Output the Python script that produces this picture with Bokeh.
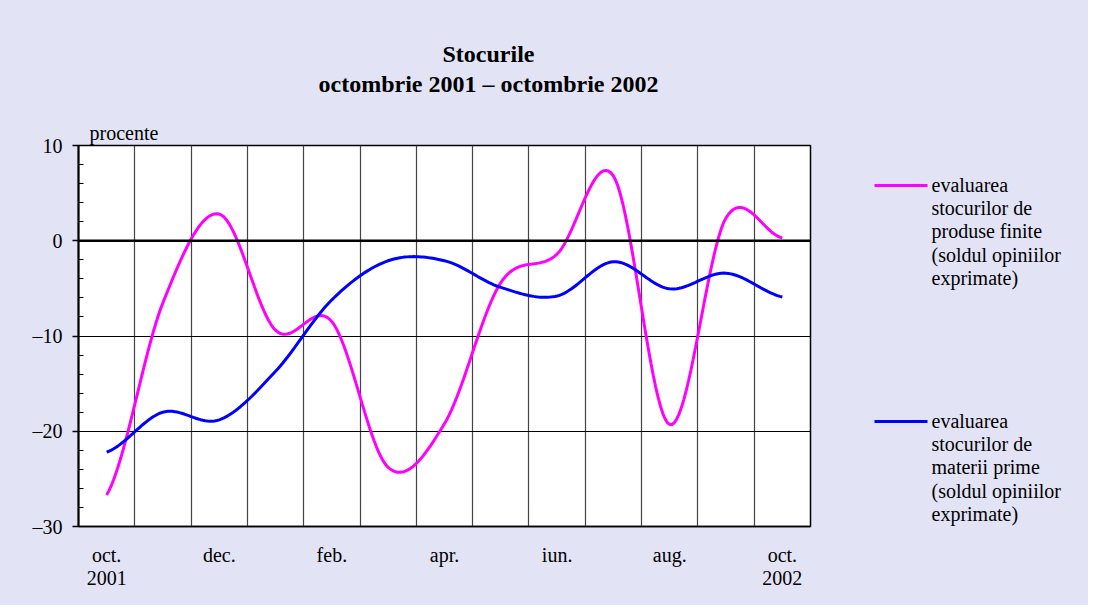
import numpy as np
from bokeh.plotting import figure
from bokeh.layouts import row, column
from bokeh.models import FixedTicker, Span, Range1d, Title
from bokeh.core.properties import value
from bokeh.embed import file_html
from bokeh.resources import INLINE

# ---------------- data ----------------
months = ["oct.", "nov.", "dec.", "ian.", "feb.", "mar.", "apr.", "mai", "iun.", "iul.", "aug.", "sep.", "oct."]
tick_labels = {0: "oct.\n2001", 2: "dec.", 4: "feb.", 6: "apr.", 8: "iun.", 10: "aug.", 12: "oct.\n2002"}
produse_finite = [-26.7, -6.5, 2.8, -9.4, -8.5, -23.8, -19.2, -4.4, -1.4, 6.8, -19.3, 2.4, 0.3]
materii_prime = [-22.2, -18.0, -18.8, -13.7, -6.2, -2.1, -2.1, -4.9, -5.8, -2.2, -5.05, -3.4, -5.9]
y_ticks = [10, 0, -10, -20, -30]
title_lines = ["Stocurile", "octombrie 2001 \u2013 octombrie 2002"]
unit_label = "procente"
legend_texts = ["evaluarea\nstocurilor de\nproduse finite\n(soldul opiniilor\nexprimate)",
                "evaluarea\nstocurilor de\nmaterii prime\n(soldul opiniilor\nexprimate)"]
legend_colors = ["#FF00FF", "#0000FF"]

FONT = "Liberation Serif"
BG = "#E3E3F6"
TOTAL_W = 1088
TOP_H = 100
MAIN_H = 505
MAIN_W = 830
LEG_W = TOTAL_W - MAIN_W
FR_L, FR_R, FR_T, FR_B = 78, 810, 145, 526   # frame edges on the page


def smooth(xs, ys, n=24):
    """Smoothed line through the points (Catmull-Rom, like a spreadsheet 'smoothed line')."""
    xs = np.asarray(xs, float)
    ys = np.asarray(ys, float)
    N = len(ys)
    m = np.empty(N)
    m[1:-1] = (ys[2:] - ys[:-2]) / 2
    m[0] = (ys[1] - ys[0]) / 2
    m[-1] = (ys[-1] - ys[-2]) / 2
    ox, oy = [], []
    for i in range(N - 1):
        t = np.linspace(0, 1, n, endpoint=(i == N - 2))
        h00 = 2 * t**3 - 3 * t**2 + 1
        h10 = t**3 - 2 * t**2 + t
        h01 = -2 * t**3 + 3 * t**2
        h11 = t**3 - t**2
        ox.extend(xs[i] + t * (xs[i + 1] - xs[i]))
        oy.extend(h00 * ys[i] + h10 * m[i] + h01 * ys[i + 1] + h11 * m[i + 1])
    return ox, oy


def blank(fig):
    fig.title = None
    fig.axis.visible = False
    fig.grid.visible = False
    fig.outline_line_color = None
    fig.background_fill_color = None
    fig.border_fill_color = BG
    return fig


xpos = [i + 0.5 for i in range(len(months))]

# ---------------- title strip ----------------
top = blank(figure(width=TOTAL_W, height=TOP_H, output_backend="svg", toolbar_location=None,
                   x_range=Range1d(FR_L, FR_R), y_range=Range1d(TOP_H, 0),
                   min_border_left=FR_L, min_border_right=TOTAL_W - FR_R,
                   min_border_top=0, min_border_bottom=0))
top.text(x=[488, 488], y=[53, 83], text=title_lines, text_font=value(FONT), text_font_size="24px",
         text_font_style="bold", text_align="center", text_baseline="middle", text_color="black")

# ---------------- main chart ----------------
p = figure(width=MAIN_W, height=MAIN_H, output_backend="svg", toolbar_location=None,
           x_range=Range1d(0, len(months)), y_range=Range1d(-30, 10),
           min_border_left=FR_L, min_border_right=MAIN_W - FR_R,
           min_border_top=FR_T - TOP_H, min_border_bottom=TOP_H + MAIN_H - FR_B)
p.title = None
p.background_fill_color = "white"
p.border_fill_color = BG
p.outline_line_color = "black"
p.outline_line_width = 1.5
p.add_layout(Title(text=unit_label, align="left", offset=11, standoff=4, text_color="black",
                   text_font=FONT, text_font_size="20px", text_font_style="normal"), "above")

p.xaxis.ticker = FixedTicker(ticks=[k + 0.5 for k in tick_labels])
p.xaxis.major_label_overrides = {k + 0.5: v for k, v in tick_labels.items()}
p.xaxis.major_tick_line_color = None
p.xaxis.minor_tick_line_color = None
p.xaxis.axis_line_color = "black"
p.xaxis.axis_line_width = 1.5
p.xaxis.major_label_text_font = FONT
p.xaxis.major_label_text_font_size = "20px"
p.xaxis.major_label_text_color = "black"
p.xaxis.major_label_standoff = 11
p.xaxis.major_label_text_line_height = 1.08

p.yaxis.ticker = FixedTicker(ticks=y_ticks, minor_ticks=list(range(-30, 11, 2)))
p.yaxis.major_label_overrides = {v: (str(v) if v >= 0 else "\u2013" + str(-v)) for v in y_ticks}
p.yaxis.major_tick_in = 0
p.yaxis.major_tick_out = 6
p.yaxis.minor_tick_in = 5
p.yaxis.minor_tick_out = 0
p.yaxis.major_tick_line_color = "black"
p.yaxis.minor_tick_line_color = "black"
p.yaxis.major_tick_line_width = 1.5
p.yaxis.minor_tick_line_width = 1.2
p.yaxis.axis_line_color = "black"
p.yaxis.axis_line_width = 2
p.yaxis.major_label_text_font = FONT
p.yaxis.major_label_text_font_size = "20px"
p.yaxis.major_label_text_color = "black"
p.yaxis.major_label_standoff = 10

p.xgrid.ticker = FixedTicker(ticks=list(range(1, len(months))))
p.xgrid.grid_line_color = "#444444"
p.xgrid.grid_line_width = 1.2
p.ygrid.ticker = FixedTicker(ticks=[-10, -20])
p.ygrid.grid_line_color = "black"
p.ygrid.grid_line_width = 1.2
p.add_layout(Span(location=0, dimension="width", line_color="black", line_width=2.5))

fx, fy = smooth(xpos, produse_finite)
mx, my = smooth(xpos, materii_prime)
p.line(fx, fy, line_color=legend_colors[0], line_width=3)
p.line(mx, my, line_color=legend_colors[1], line_width=3)

# ---------------- legend panel (page pixel coordinates, y downward) ----------------
lg = blank(figure(width=LEG_W, height=MAIN_H, output_backend="svg", toolbar_location=None,
                  x_range=Range1d(MAIN_W, TOTAL_W), y_range=Range1d(FR_B, FR_T),
                  min_border_left=0, min_border_right=0,
                  min_border_top=FR_T - TOP_H, min_border_bottom=TOP_H + MAIN_H - FR_B))
leg_y = [185, 421]
lg.segment(x0=[874, 874], y0=leg_y, x1=[927, 927], y1=leg_y, line_color=legend_colors, line_width=3)
lg.text(x=[931, 931], y=[y - 12 for y in leg_y], text=legend_texts,
        text_font=value(FONT), text_font_size="20px", text_align="left",
        text_baseline="top", text_line_height=1.065, text_color="black")

layout = column(top, row(p, lg, spacing=0, styles={"background-color": BG}),
                spacing=0, styles={"background-color": BG})
open("out.html", "w").write(file_html(layout, INLINE))
